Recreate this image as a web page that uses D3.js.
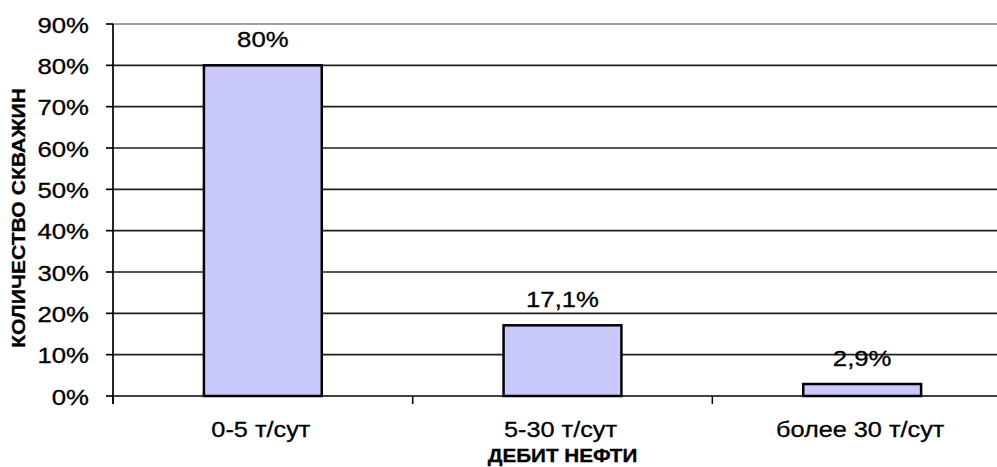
<!DOCTYPE html>
<html>
<head>
<meta charset="utf-8">
<script src="https://cdn.jsdelivr.net/npm/d3@7"></script>
<style>
  html, body { margin: 0; padding: 0; background: #fff; }
  svg { display: block; }
  text { font-family: "Liberation Sans", Arial, sans-serif; fill: #000; stroke: #000; stroke-width: 0.3px; }
</style>
</head>
<body>
<svg id="chart" width="997" height="467"></svg>
<script>
// Распределение скважин по дебиту нефти
const categories = ["0-5 т/сут", "5-30 т/сут", "более 30 т/сут"];
const shares = [80, 17.1, 2.9];            // % скважин
const yTicks = [0, 10, 20, 30, 40, 50, 60, 70, 80, 90];
const xTitle = "ДЕБИТ НЕФТИ";
const yTitle = "КОЛИЧЕСТВО СКВАЖИН";

const svg = d3.select("#chart");
const plotLeft = 113, plotBottom = 396, plotTop = 24;
const plotRight = 1012;
const stretch = 1.17;

const x = d3.scaleBand()
  .domain(categories)
  .range([plotLeft, plotRight])
  .paddingInner(0.6)
  .paddingOuter(0.3);
const step = x.step();

const y = d3.scaleLinear().domain([0, 90]).range([plotBottom, plotTop]);

const pct = v => String(v).replace(".", ",") + "%";

// горизонтальная сетка
svg.append("g")
  .selectAll("line")
  .data(yTicks.filter(t => t > 0))
  .join("line")
  .attr("x1", plotLeft).attr("x2", plotRight)
  .attr("y1", d => y(d)).attr("y2", d => y(d))
  .attr("stroke", d => d === 90 ? "#a0a0a0" : "#1e1e1e")
  .attr("stroke-width", d => d === 90 ? 2 : 1.7);

// столбцы
svg.append("g")
  .selectAll("rect")
  .data(categories)
  .join("rect")
  .attr("x", d => x(d) + 1)
  .attr("width", x.bandwidth() - 2)
  .attr("y", (d, i) => y(shares[i]))
  .attr("height", (d, i) => y(0) - y(shares[i]))
  .attr("fill", "#c9c9fc")
  .attr("stroke", "#000")
  .attr("stroke-width", 2.5);

// ось X
svg.append("line")
  .attr("x1", plotLeft).attr("x2", plotRight)
  .attr("y1", y(0)).attr("y2", y(0))
  .attr("stroke", "#000").attr("stroke-width", 1.7);

const boundaries = categories.map(c => x(c) - step * 0.3).concat([plotRight]);
svg.append("g")
  .selectAll("line")
  .data(boundaries)
  .join("line")
  .attr("x1", d => d).attr("x2", d => d)
  .attr("y1", y(0)).attr("y2", y(0) + 8)
  .attr("stroke", "#000").attr("stroke-width", 1.5);

// ось Y
svg.append("line")
  .attr("x1", plotLeft).attr("x2", plotLeft)
  .attr("y1", y(90)).attr("y2", y(0) + 8)
  .attr("stroke", "#000").attr("stroke-width", 1.7);

svg.append("g")
  .selectAll("line")
  .data(yTicks)
  .join("line")
  .attr("x1", plotLeft - 7).attr("x2", plotLeft)
  .attr("y1", d => y(d)).attr("y2", d => y(d))
  .attr("stroke", "#000").attr("stroke-width", 1.7);

svg.append("g")
  .selectAll("text")
  .data(yTicks)
  .join("text")
  .attr("transform", d => `translate(89,${y(d) + 8.5}) scale(${stretch},1)`)
  .attr("text-anchor", "end")
  .style("font-size", "22px")
  .text(d => d + "%");

// подписи категорий
svg.append("g")
  .selectAll("text")
  .data(categories)
  .join("text")
  .attr("transform", d => `translate(${x(d) + x.bandwidth() / 2 - 2},437) scale(1.15,1)`)
  .attr("text-anchor", "middle")
  .style("font-size", "22px")
  .text(d => d);

// значения над столбцами
svg.append("g")
  .selectAll("text")
  .data(categories)
  .join("text")
  .attr("transform", (d, i) => `translate(${x(d) + x.bandwidth() / 2},${y(shares[i]) - 18}) scale(${stretch},1)`)
  .attr("text-anchor", "middle")
  .style("font-size", "22px")
  .text((d, i) => pct(shares[i]));

// названия осей
svg.append("text")
  .attr("transform", `translate(${x(categories[1]) + x.bandwidth() / 2},462) scale(1.15,1)`)
  .attr("text-anchor", "middle")
  .style("font-size", "18px")
  .style("font-weight", "bold")
  .text(xTitle);

svg.append("text")
  .attr("transform", "translate(25,218) rotate(-90)")
  .attr("text-anchor", "middle")
  .attr("textLength", 260)
  .attr("lengthAdjust", "spacingAndGlyphs")
  .style("font-size", "18px")
  .style("font-weight", "bold")
  .text(yTitle);
</script>
</body>
</html>
